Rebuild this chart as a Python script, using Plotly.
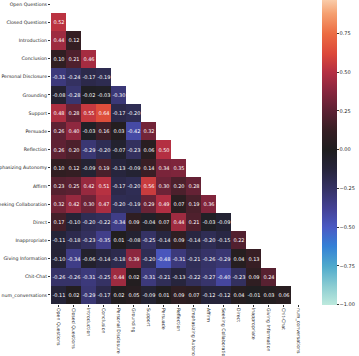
import plotly.graph_objects as go

labels = [
    "Open Questions", "Closed Questions", "Introduction", "Conclusion",
    "Personal Disclosure", "Grounding", "Support", "Persuade", "Reflection",
    "Emphasizing Autonomy", "Affirm", "Seeking Collaboration", "Direct",
    "Inappropriate", "Giving Information", "Chit-Chat", "num_conversations",
]

# lower triangle of the correlation matrix (diagonal and above are masked)
open_questions = []
closed_questions = [0.52]
introduction = [0.44, 0.12]
conclusion = [0.10, 0.21, 0.46]
personal_disclosure = [-0.31, -0.24, -0.17, -0.19]
grounding = [-0.08, -0.28, -0.02, -0.03, -0.30]
support = [0.48, 0.28, 0.55, 0.64, -0.17, -0.20]
persuade = [0.26, 0.40, -0.03, 0.16, 0.03, -0.42, 0.32]
reflection = [0.26, 0.20, -0.29, -0.20, -0.07, -0.23, 0.06, 0.50]
emphasizing_autonomy = [0.10, 0.12, -0.09, 0.19, -0.13, -0.09, 0.14, 0.34, 0.35]
affirm = [0.23, 0.25, 0.42, 0.51, -0.17, -0.20, 0.56, 0.30, 0.20, 0.28]
seeking_collaboration = [0.32, 0.42, 0.30, 0.47, -0.20, -0.19, 0.29, 0.49, 0.07, 0.19, 0.36]
direct = [0.17, -0.10, -0.20, -0.22, -0.34, 0.09, -0.04, 0.07, 0.44, 0.21, -0.03, -0.09]
inappropriate = [-0.11, -0.18, -0.23, -0.35, 0.01, -0.08, -0.25, -0.14, 0.09, -0.14,
                 -0.20, -0.15, 0.22]
giving_information = [-0.10, -0.34, -0.06, -0.14, -0.18, 0.39, -0.20, -0.48, -0.31,
                      -0.21, -0.26, -0.29, 0.04, 0.13]
chit_chat = [-0.26, -0.26, -0.31, -0.25, 0.44, 0.02, -0.31, -0.21, -0.13, -0.22,
             -0.27, -0.40, -0.23, 0.09, 0.24]
num_conversations = [-0.11, 0.02, -0.29, -0.17, 0.02, 0.05, -0.09, 0.01, 0.09, 0.07,
                     -0.12, -0.12, 0.04, -0.01, 0.03, 0.06]

rows = [open_questions, closed_questions, introduction, conclusion,
        personal_disclosure, grounding, support, persuade, reflection,
        emphasizing_autonomy, affirm, seeking_collaboration, direct,
        inappropriate, giving_information, chit_chat, num_conversations]

cbar_ticks = [-1.0, -0.75, -0.5, -0.25, 0.0, 0.25, 0.5, 0.75, 1.0]

# approximation of seaborn's "icefire"
icefire = [
    [0.00, "rgb(189,233,221)"], [0.06, "rgb(140,205,210)"],
    [0.125, "rgb(79,170,204)"], [0.19, "rgb(52,128,214)"],
    [0.25, "rgb(74,90,196)"], [0.31, "rgb(68,66,150)"],
    [0.375, "rgb(53,50,100)"], [0.44, "rgb(38,36,58)"],
    [0.50, "rgb(31,30,31)"], [0.56, "rgb(52,30,35)"],
    [0.625, "rgb(91,33,50)"], [0.69, "rgb(136,38,62)"],
    [0.75, "rgb(180,47,66)"], [0.81, "rgb(220,72,58)"],
    [0.875, "rgb(236,108,66)"], [0.94, "rgb(245,160,112)"],
    [1.00, "rgb(251,220,190)"],
]

n = len(labels)
z, text = [], []
for i, row in enumerate(rows):
    full = list(row) + [None] * (n - len(row))
    z.append(full)
    text.append(["" if v is None else f"{v:.2f}" for v in full])

font = "DejaVu Sans"
tick_font = dict(size=4.7, color="#262626", family=font)

fig = go.Figure(go.Heatmap(
    z=z,
    x=list(range(n)),
    y=list(range(n)),
    text=text,
    texttemplate="%{text}",
    textfont=dict(size=5, color="white", family=font),
    colorscale=icefire,
    zmin=-1, zmax=1,
    hoverongaps=False,
    colorbar=dict(
        thickness=15, lenmode="pixels", len=310,
        x=1.0616, xanchor="left", xpad=0,
        y=1.0178, yanchor="top", ypad=0,
        outlinewidth=0,
        tickvals=cbar_ticks, tickformat=".2f",
        ticks="outside", ticklen=2, tickwidth=0.6, tickcolor="#333",
        tickfont=dict(size=5, color="#262626", family=font),
    ),
))

fig.update_xaxes(
    tickvals=list(range(n)), ticktext=labels, tickangle=90,
    range=[-0.5, n - 0.5], showgrid=False, zeroline=False,
    ticks="outside", ticklen=2, tickwidth=0.6, tickcolor="#333",
    tickfont=tick_font,
    automargin=False,
)
fig.update_yaxes(
    tickvals=list(range(n)), ticktext=labels,
    range=[n - 0.5, -0.225], showgrid=False, zeroline=False,
    ticks="outside", ticklen=2, tickwidth=0.6, tickcolor="#333",
    tickfont=tick_font,
    automargin=False,
)

fig.update_layout(
    width=359, height=356,
    margin=dict(l=51, r=53, t=0, b=52, autoexpand=False),
    plot_bgcolor="white", paper_bgcolor="white",
    font=dict(family=font),
)

# drop the browser's default body margin so the figure sits at the page corner
fig.write_html("out.html", config={"displayModeBar": False},
               post_script="document.body.style.margin = '0px';")
